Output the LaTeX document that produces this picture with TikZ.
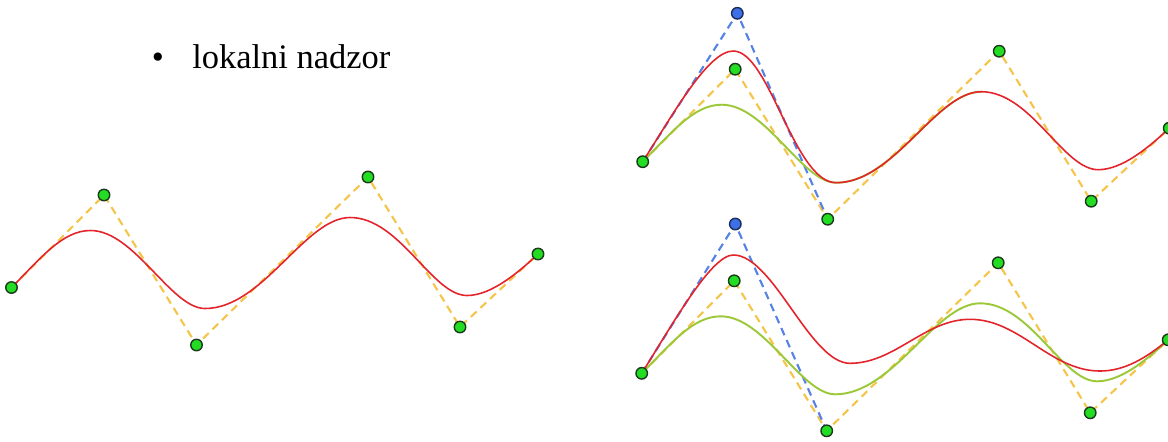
\documentclass[tikz,border=0pt]{standalone}
\usepackage{fontspec}
\setmainfont{Liberation Serif}
\newfontfamily\titleserif{Liberation Serif}
\definecolor{ptgreen}{HTML}{22DD22}
\definecolor{ptedge}{HTML}{1E3A1E}
\definecolor{ptblue}{HTML}{3D6FE6}
\definecolor{ptblueedge}{HTML}{1C2E5A}
\definecolor{polyyel}{HTML}{F5C54A}
\definecolor{polyblue}{HTML}{5582E6}
\definecolor{curvered}{HTML}{E3242B}
\definecolor{curvegreen}{HTML}{9CC83A}
\tikzset{
  gpt/.style={circle, draw=ptedge, fill=ptgreen, line width=0.8pt, minimum size=0.23cm, inner sep=0pt},
  bpt/.style={circle, draw=ptblueedge, fill=ptblue, line width=0.8pt, minimum size=0.23cm, inner sep=0pt},
  yelpoly/.style={draw=polyyel, line width=1.2pt, dash pattern=on 4.5pt off 3pt},
  bluepoly/.style={draw=polyblue, line width=1.2pt, dash pattern=on 4.5pt off 3pt},
  redcurve/.style={draw=curvered, line width=0.9pt},
  greencurve/.style={draw=curvegreen, line width=1.1pt},
  titletext/.style={font=\titleserif\fontsize{19.6}{23}\selectfont, inner sep=0pt}
}
\begin{document}
\begin{tikzpicture}[x=0.02cm, y=-0.02cm]
\useasboundingbox (0,0) rectangle (1168,441);
\fill[white] (0,0) rectangle (1168,441);

% title
\node[titletext, anchor=base] (bullet) at (158,68) {•};
\node[titletext, anchor=base west] (title) at (192,68) {lokalni nadzor};

% ---------------- left figure ----------------
\coordinate (a0) at (11.5,287.5);
\coordinate (a1) at (104,195);
\coordinate (a2) at (196.5,345);
\coordinate (a3) at (368,177);
\coordinate (a4) at (460,327);
\coordinate (a5) at (538,254);
\draw[yelpoly] (a0) -- (a1) -- (a2) -- (a3) -- (a4) -- (a5);
\draw[redcurve] (a0) .. controls (41.5,257.5) and (62.5,230.5) .. (90.5,230.5)
  .. controls (134.5,230.5) and (171,308.5) .. (205,308.5)
  .. controls (263,308.5) and (305,217.5) .. (350,217.5)
  .. controls (400,217.5) and (432,295.5) .. (467,295.5)
  .. controls (492,295.5) and (519.75,271.1) .. (a5);
\foreach \p in {a0,a1,a2,a3,a4,a5} \node[gpt] (n\p) at (\p) {};

% ---------------- top right figure ----------------
\begin{scope}[shift={(631.2,-125.8)}]
\coordinate (b0) at (11.5,287.5);
\coordinate (b1) at (104,195);
\coordinate (b2) at (196.5,345);
\coordinate (b3) at (368,177);
\coordinate (b4) at (460,327);
\coordinate (b5) at (538,254);
\coordinate (bq) at (106.1,139.1);
\draw[yelpoly] (b0) -- (b1) -- (b2) -- (b3) -- (b4) -- (b5);
\draw[bluepoly] (b0) -- (bq) -- (b2);
\draw[greencurve] (b0) .. controls (41.5,257.5) and (62.5,230.5) .. (90.5,230.5)
  .. controls (134.5,230.5) and (171,308.5) .. (205,308.5)
  .. controls (263,308.5) and (305,217.5) .. (350,217.5);
\draw[redcurve] (b0) .. controls (43.8,236.9) and (77.1,176.8) .. (102.1,176.8)
  .. controls (138.1,176.8) and (163,308.5) .. (205,308.5)
  .. controls (263,308.5) and (305,217.5) .. (350,217.5)
  .. controls (400,217.5) and (432,295.5) .. (467,295.5)
  .. controls (492,295.5) and (519.75,271.1) .. (b5);
\end{scope}
\foreach \p in {b0,b1,b2,b3,b4,b5} \node[gpt] (n\p) at (\p) {};
\node[bpt] (nbq) at (bq) {};

% ---------------- bottom right figure ----------------
\begin{scope}[shift={(630.2,85.8)}]
\coordinate (c0) at (11.5,287.5);
\coordinate (c1) at (104,195);
\coordinate (c2) at (196.5,345);
\coordinate (c3) at (368,177);
\coordinate (c4) at (460,327);
\coordinate (c5) at (538,254);
\coordinate (cq) at (105.1,138.2);
\draw[yelpoly] (c0) -- (c1) -- (c2) -- (c3) -- (c4) -- (c5);
\draw[bluepoly] (c0) -- (cq) -- (c2);
\draw[greencurve] (c0) .. controls (41.5,257.5) and (62.5,230.5) .. (90.5,230.5)
  .. controls (134.5,230.5) and (171,308.5) .. (205,308.5)
  .. controls (263,308.5) and (305,217.5) .. (350,217.5)
  .. controls (400,217.5) and (432,295.5) .. (467,295.5)
  .. controls (492,295.5) and (519.75,271.1) .. (c5);
\draw[redcurve] (c0) .. controls (43.4,236.7) and (81.1,169.2) .. (103.1,169.2)
  .. controls (143.1,169.2) and (179.8,277.5) .. (219.8,277.5)
  .. controls (264.8,277.5) and (294.8,233.5) .. (339.8,233.5)
  .. controls (389.8,233.5) and (419.8,285.2) .. (469.8,285.2)
  .. controls (494.8,285.2) and (516,272) .. (c5);
\end{scope}
\foreach \p in {c0,c1,c2,c3,c4,c5} \node[gpt] (n\p) at (\p) {};
\node[bpt] (ncq) at (cq) {};
\end{tikzpicture}
\end{document}
